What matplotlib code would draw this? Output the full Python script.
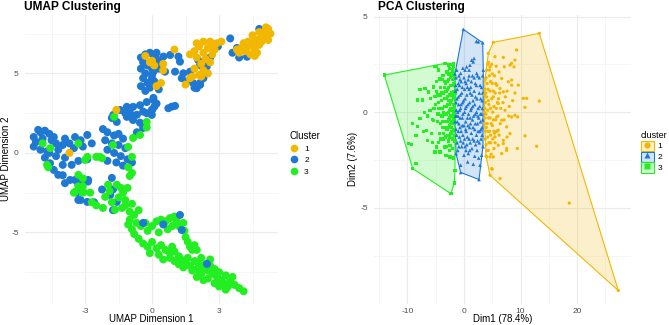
import numpy as np
import matplotlib.pyplot as plt
import matplotlib.colors as mcolors
from matplotlib.lines import Line2D
from matplotlib.patches import Patch
from matplotlib.ticker import MultipleLocator, FixedLocator

plt.rcParams["font.family"] = ["Liberation Sans", "DejaVu Sans"]
plt.rcParams["axes.unicode_minus"] = False

CLUSTERS = ["1", "2", "3"]
COLORS = ["#F2B701", "#1F78D1", "#22EE22"]
PCA_MARKERS = ["o", "^", "s"]

# UMAP embedding
umap_1 = [
    (5.2, 7.8), (5.0, 7.6), (5.3, 7.5), (4.9, 7.3), (5.1, 7.2), (4.7, 7.1), (4.5, 6.9),
    (4.8, 6.8), (4.3, 6.7), (4.6, 6.5), (4.2, 6.4), (4.0, 6.6), (4.4, 6.2), (4.9, 7.0),
    (5.2, 7.1), (4.1, 6.9), (3.9, 6.3), (4.6, 6.1), (3.8, 6.5), (4.5, 7.4), (4.8, 7.6),
    (5.1, 7.9), (4.3, 7.0), (4.7, 6.3),
    (2.3, 7.0), (2.6, 7.0), (2.9, 6.9), (2.1, 6.7), (2.5, 6.6), (2.8, 6.5), (1.9, 6.4),
    (2.3, 6.3), (2.7, 6.2), (2.0, 6.0), (2.4, 5.9), (2.2, 5.6), (2.6, 5.7), (1.9, 5.3),
    (2.3, 5.2), (2.1, 4.9), (2.5, 5.0), (1.8, 4.8), (2.7, 6.8), (1.7, 6.2), (3.1, 7.0),
    (2.0, 6.9),
    (0.0, 5.8), (0.1, 5.5), (1.0, 6.5), (0.5, 5.2), (1.5, 4.3), (1.7, 4.7), (0.4, 4.4),
    (2.2, 4.8), (-0.1, 5.7), (0.2, 4.2), (0.5, 5.6), (-0.3, 6.1),
    (-1.6, 2.7), (-3.7, 0.0),
]
umap_2 = [
    (4.8, 7.8), (4.4, 6.9), (3.8, 6.6), (3.6, 6.3), (3.9, 6.0), (4.25, 6.05), (3.5, 7.2),
    (2.6, 6.0), (2.06, 5.85), (1.9, 4.1), (2.15, 4.4), (2.95, 6.7),
    (0.06, 6.16), (0.51, 6.06), (0.81, 6.16), (1.18, 6.06), (1.25, 5.74), (0.36, 5.53),
    (0.06, 5.11), (-0.01, 4.7), (0.21, 4.28), (0.58, 5.11), (1.03, 5.11), (1.4, 5.01),
    (1.7, 5.11), (1.33, 4.7), (1.55, 4.48), (1.85, 4.38), (2.0, 4.07), (2.15, 4.28),
    (2.3, 4.7), (2.37, 5.11), (2.15, 5.53), (2.45, 5.43), (2.52, 5.74),
    (-0.5, 6.0), (-0.3, 6.2), (-0.1, 6.3), (0.2, 6.3), (-0.4, 5.7), (-0.2, 5.5), (0.1, 5.7),
    (-0.5, 5.3), (-0.3, 5.0), (0.0, 5.3), (-0.4, 4.7), (-0.2, 4.4), (0.0, 4.9), (-0.5, 4.2),
    (-0.3, 3.9), (-0.1, 4.1), (0.1, 4.5), (0.3, 4.0), (0.2, 5.9), (0.4, 5.7), (0.3, 5.3),
    (0.06, 3.33), (-0.01, 2.7), (0.73, 2.81), (0.88, 2.91), (1.03, 2.96), (-0.01, 2.39),
    (0.06, 3.46), (-0.24, 3.2), (-0.54, 3.0), (-0.85, 2.9), (-1.13, 2.9), (-1.43, 2.7),
    (-1.73, 2.4), (-1.8, 2.2), (-1.58, 1.95), (-1.13, 2.27), (-0.68, 2.4), (-0.54, 1.9),
    (-0.24, 2.5), (0.0, 2.7), (-0.4, 1.57), (-0.68, 1.3), (-0.85, 2.07), (-0.98, 2.5),
    (0.2, 3.1), (0.1, 2.9), (-0.4, 2.6), (-1.2, 2.5), (-0.9, 2.2),
    (-5.3, 1.0), (-5.0, 1.3), (-4.8, 1.4), (-4.6, 1.2), (-5.2, 0.7), (-4.9, 0.9), (-4.5, 0.8),
    (-4.3, 0.6), (-4.0, 0.5), (-3.7, 0.6), (-3.45, 1.0), (-3.2, 0.8), (-2.9, 1.13),
    (-3.1, 0.4), (-2.7, 0.6), (-3.5, 0.3), (-4.2, 0.2), (-4.7, 0.1), (-5.3, 0.4), (-5.0, 0.2),
    (-4.4, 1.0), (-3.9, 0.9), (-5.1, 1.45),
    (-4.57, -0.65), (-4.4, -1.07), (-4.0, -0.75), (-3.6, -0.75), (-4.0, -1.4), (-3.67, -1.7),
    (-3.3, -2.0), (-3.2, -1.7), (-2.86, -1.7), (-3.2, -2.96), (-2.9, -3.08), (-2.6, -3.1),
    (-3.37, -2.5), (-4.2, -1.38), (-3.9, -1.9), (-3.45, -1.7), (-2.87, -1.8), (-3.3, -2.96),
    (-4.8, -0.3), (-4.3, -0.2), (-3.9, -0.3), (-3.3, -0.5), (-2.9, -0.4), (-4.6, 0.0),
    (-2.2, 1.5), (-2.0, 1.3), (-1.7, 1.1), (-1.5, 1.2), (-1.3, 0.9), (-2.1, 0.8), (-1.8, 0.6),
    (-1.5, 0.5), (-1.2, 0.3), (-2.0, 0.2), (-1.7, 0.0), (-1.4, -0.2), (-1.1, -0.4),
    (-2.0, -0.5), (-1.6, -0.6), (-1.3, -0.8), (-0.9, -0.6), (-1.8, -1.57), (-2.24, -2.3),
    (-1.87, -2.64), (-1.58, -3.08), (-1.75, -2.3), (-1.75, -3.6),
]
umap_3 = [
    (-1.7, 2.27), (-0.24, 1.95), (-0.54, 1.13), (-0.24, 1.6), (-4.9, 0.6), (-4.56, 0.3),
    (-3.3, 0.6), (-2.9, -0.25), (-2.5, -0.25), (-4.65, -0.9), (-3.5, -2.5), (-2.77, -2.5),
    (-3.07, -2.45), (-3.3, -2.1), (-4.7, -0.75), (-2.33, -0.25), (-3.0, -0.44),
    (-3.45, -2.45), (-3.1, -2.5), (-2.7, -3.1), (-3.1, -2.1), (-3.3, -1.38), (-3.1, -1.6),
    (-1.75, 0.5), (-1.07, 0.38), (-0.85, 0.94), (-0.9, -0.25), (-0.9, -1.26), (-1.07, -0.9),
    (-2.24, -0.33), (-1.97, -2.0), (-1.58, -2.0), (-2.1, -2.76), (-1.8, -3.1), (-2.2, -3.46),
    (-1.3, -2.5), (-1.2, -2.96), (-1.0, -3.7), (-1.34, -3.46), (-1.66, -3.58), (-1.4, -2.2),
    (-1.1, -2.2), (-1.5, -2.8), (-1.2, -3.3), (-1.9, -2.4), (-0.9, -3.2), (-0.6, -3.6),
    (-0.8, -3.9), (-2.5, -3.3), (-1.0, -1.45),
    (-1.07, -4.5), (-1.0, -4.2), (-0.9, -4.8), (-0.7, -4.4), (-0.8, -5.1), (-0.5, -4.6),
    (-0.3, -4.4), (-0.6, -5.4), (-0.2, -4.9), (0.0, -4.6), (0.2, -4.3), (0.4, -4.2),
    (0.6, -4.3), (0.8, -4.1), (1.0, -4.0), (1.1, -4.3), (0.9, -4.6), (1.2, -4.6), (0.7, -4.8),
    (1.4, -4.4), (1.45, -4.9), (1.5, -5.3), (1.6, -5.6), (1.7, -5.9), (1.8, -6.1), (2.0, -6.1),
    (1.9, -5.8), (0.3, -5.0),
    (-0.4, -5.7), (-0.2, -5.9), (0.0, -5.6), (0.2, -6.0), (0.4, -5.8), (0.6, -6.1),
    (0.8, -6.3), (1.0, -6.2), (-0.1, -6.3), (0.3, -6.4), (1.2, -6.5), (0.9, -5.9),
    (1.0, -6.8), (1.3, -6.7), (1.5, -6.9), (1.7, -7.1), (1.6, -6.6), (1.9, -6.8), (2.1, -7.0),
    (2.0, -7.3), (2.3, -7.2), (2.5, -7.4), (2.2, -7.6), (2.4, -7.0), (2.6, -7.1), (2.8, -7.3),
    (2.7, -7.6), (2.9, -7.8), (2.5, -7.9), (3.0, -7.5), (3.1, -8.0), (3.3, -7.7), (3.2, -8.2),
    (3.5, -8.0), (3.4, -8.4), (3.7, -8.3), (3.9, -8.5), (4.1, -8.7), (2.3, -8.0), (2.0, -7.8),
    (1.8, -7.4), (2.8, -8.2), (3.6, -7.8), (3.0, -8.4), (2.6, -6.7), (2.2, -6.6), (1.4, -7.2),
    (1.2, -7.0), (0.8, -6.6), (0.5, -6.7), (3.3, -8.6),
]
# cluster 2 points lying on top of the lower green band
umap_2_lower = [(2.46, -6.98), (-0.4, -4.4), (0.5, -4.5), (1.25, -3.9), (1.33, -4.85)]

# PCA scores
pca_1 = [
    (5.18, 3.65), (13.3, 4.12), (27.26, -9.32), (4.6, -3.3), (4.0, -2.34), (3.6, 0.0),
    (3.7, 1.68), (4.3, 3.07),
    (4.6, 2.37), (5.48, 2.9), (6.95, 2.86), (9.0, 2.72), (9.3, 3.25), (8.13, 2.46),
    (8.83, 2.37), (6.66, 1.76), (7.83, 1.59), (8.42, 1.41), (6.36, 1.24), (6.95, 1.06),
    (9.6, 1.41), (10.48, 0.72), (13.3, 0.58), (10.78, 0.25), (11.07, 0.72), (5.18, 0.8),
    (6.06, 0.45), (7.24, 0.1), (5.77, -0.25), (6.66, -0.42), (8.42, -0.25), (9.0, -0.16),
    (7.54, -0.77), (6.06, -0.94), (8.13, -1.12), (10.78, -1.24), (9.42, -1.9), (12.84, -1.78),
    (6.95, -1.47), (6.06, -1.73), (7.54, -1.9), (5.48, -1.29), (4.6, -2.34), (8.42, 2.55),
    (7.12, 2.37), (8.42, 1.68), (9.48, -0.25), (6.95, -1.64), (6.66, -2.16), (5.18, -2.34),
    (4.89, -2.95), (6.36, -3.47), (7.54, -2.0), (18.6, -4.75), (5.0, -2.98),
    (3.7, 1.2), (3.8, 0.5), (3.7, -0.3), (3.8, -1.0), (3.9, -1.7), (4.0, 2.2), (4.1, 1.5),
    (4.0, 0.8), (4.2, 0.1), (4.1, -0.6), (4.2, -1.3), (4.3, -2.0), (4.5, 1.9), (4.6, 1.1),
    (4.4, 0.4), (4.6, -0.3), (4.5, -1.0), (4.7, -1.6), (4.9, 2.5), (5.0, 1.5), (4.9, 0.7),
    (5.1, 0.0), (5.0, -0.7), (5.1, -1.4), (5.4, 1.9), (5.5, 1.0), (5.3, 0.3), (5.6, -0.4),
    (5.4, -1.1), (5.8, 1.4), (5.9, 0.5), (6.0, -0.2), (5.8, -1.0), (6.3, 1.0), (6.5, 0.2),
    (6.4, -0.6), (6.9, 0.5), (7.1, -0.4), (4.3, 2.6), (3.9, -2.3), (4.8, -2.2), (5.3, -1.9),
    (7.6, 1.1), (7.9, -0.2), (8.6, 0.6), (5.7, 2.4), (6.2, 2.1),
    (3.65, 0.9), (3.7, 0.2), (3.65, -0.6), (3.75, -1.4), (3.9, 1.8), (3.85, 1.0),
    (3.9, -0.1), (3.95, -0.8), (4.0, -2.0), (4.2, 2.5), (4.25, 1.2), (4.3, 0.6), (4.35, -0.3),
    (4.3, -1.0), (4.4, -1.6), (4.5, 2.2), (4.7, 1.6), (4.7, 0.2), (4.8, -0.6), (4.7, -1.2),
    (5.0, 2.0), (5.2, 1.1), (5.2, -0.4), (5.3, -1.0), (5.6, 1.5), (5.7, 0.2), (5.5, -1.6),
    (6.2, -1.2), (6.1, 0.7), (7.3, 0.8), (8.0, 0.3), (7.6, -1.3), (9.0, 1.0),
]
pca_2 = [
    (-0.12, 4.33), (2.2, 3.7), (3.3, 3.63), (3.41, 2.2), (3.35, -1.8), (2.65, -3.52),
    (-0.59, -3.15), (-1.1, -2.0), (-1.6, -0.5), (-1.6, 2.0),
    (1.64, 2.63), (1.06, 2.46), (0.18, 2.2), (2.24, 2.03), (-0.59, 2.03), (-1.3, 2.2),
    (0.47, 2.37), (1.36, 2.72), (1.77, 2.81), (2.53, 3.68), (0.76, -2.16), (3.12, -2.25),
    (0.65, -2.6), (1.64, -2.72), (-0.59, -2.77), (2.83, -2.77), (-1.41, -2.16), (0.0, -2.25),
    (-1.4, 1.8), (-1.2, 1.2), (-1.4, 0.5), (-1.3, -0.2), (-1.4, -0.9), (-1.2, -1.6),
    (-0.9, 1.9), (-0.8, 1.4), (-1.0, 0.8), (-0.8, 0.1), (-0.9, -0.6), (-0.8, -1.3),
    (-0.5, 1.6), (-0.4, 1.0), (-0.5, 0.4), (-0.3, -0.3), (-0.5, -1.0), (-0.4, -1.8),
    (0.0, 1.8), (0.1, 1.2), (-0.1, 0.6), (0.1, 0.0), (0.0, -0.7), (0.1, -1.4), (0.4, 1.5),
    (0.5, 0.9), (0.4, 0.3), (0.6, -0.3), (0.4, -1.0), (0.5, -1.7), (0.9, 1.9), (0.9, 1.2),
    (1.0, 0.5), (0.8, -0.1), (1.0, -0.8), (0.9, -1.4), (1.3, 1.6), (1.4, 0.9), (1.3, 0.2),
    (1.5, -0.4), (1.3, -1.1), (1.4, -1.9), (1.8, 1.8), (1.8, 1.1), (1.9, 0.4), (1.7, -0.2),
    (1.9, -0.9), (1.8, -1.5), (2.2, 1.4), (2.3, 0.7), (2.2, 0.0), (2.4, -0.6), (2.2, -1.2),
    (2.3, -2.0), (2.7, 1.8), (2.7, 1.0), (2.8, 0.3), (2.6, -0.3), (2.8, -1.0), (2.7, -1.6),
    (3.1, 1.3), (3.2, 0.6), (3.1, -0.1), (3.2, -0.8), (3.0, -1.4), (3.3, 1.9), (-1.1, 0.0),
    (0.2, 0.7), (1.1, -0.3), (2.0, -0.1), (0.7, 0.4), (-0.2, -1.2), (1.6, 0.6), (2.5, 0.2),
    (-0.7, -0.3), (0.3, -0.5), (1.2, 1.3), (2.9, -0.5),
    (-1.45, 1.4), (-1.25, 0.7), (-1.35, 0.1), (-1.2, -0.5), (-1.3, -1.2), (-1.0, 1.5),
    (-0.95, 0.4), (-1.05, -0.2), (-1.0, -1.0), (-0.7, 1.7), (-0.65, 0.9), (-0.6, 0.2),
    (-0.7, -0.8), (-0.6, -1.5), (-0.3, 1.3), (-0.25, 0.5), (-0.2, -0.1), (-0.3, -0.7),
    (-0.15, -1.6), (0.2, 1.6), (0.25, 0.2), (0.3, -0.9), (0.2, -1.8), (0.6, 1.3), (0.7, -0.7),
    (0.6, -1.3), (0.75, 1.7), (1.1, 1.0), (1.2, 0.1), (1.15, -0.6), (1.1, -1.6), (1.5, 1.9),
    (1.55, 0.3), (1.6, -0.8), (1.55, -1.4), (2.0, 1.5), (2.05, 0.8), (2.0, -0.6), (2.05, -1.7),
    (2.4, 1.9), (2.45, -0.2), (2.5, -1.0), (2.4, -1.5), (2.85, 1.4), (2.95, 0.7), (2.9, -0.1),
    (3.0, -0.9), (3.25, 0.2), (3.2, -1.2), (3.3, 1.0), (0.9, 2.2), (-0.2, 2.3), (1.9, -2.3),
    (2.6, -2.4), (-0.9, -1.8), (0.35, -2.0), (-1.5, -0.2), (-1.5, 1.1), (3.3, -0.4),
    (1.0, -2.0),
]
pca_3 = [
    (-14.08, 1.94), (-1.8, 2.55), (-1.59, -3.04), (-1.71, -3.7), (-2.3, -4.26),
    (-9.06, -2.95), (-8.48, -2.67),
    (-7.77, 1.19), (-6.89, 1.24), (-6.3, 1.06), (-8.18, 0.63), (-7.3, 0.63), (-9.06, -0.59),
    (-8.25, -0.73), (-7.77, -0.33), (-8.48, -1.2), (-9.24, -1.68), (-9.8, -1.64),
    (-6.6, -0.94), (-6.48, -1.47), (-5.12, 2.37), (-4.53, 2.2), (-4.24, 1.76), (-5.42, 1.32),
    (-5.12, 0.8), (-6.0, 0.1), (-5.42, -0.42), (-5.7, -1.12), (-4.82, -1.82), (-4.24, -2.08),
    (-3.36, -1.82), (-2.47, -1.73), (-3.06, -2.25), (-2.47, -2.34), (-5.12, -2.08),
    (-3.18, -2.25), (-4.82, 2.37), (-3.36, 2.55), (-2.77, 2.46), (-2.17, 2.03),
    (-4.9, 1.6), (-4.6, 0.9), (-4.4, 0.2), (-4.7, -0.5), (-4.3, -1.1), (-4.1, 1.3),
    (-4.0, 0.6), (-3.9, -0.2), (-3.8, -0.8), (-3.7, 1.9), (-3.6, 1.0), (-3.5, 0.3),
    (-3.4, -0.5), (-3.3, -1.3), (-3.3, 1.5), (-3.2, 0.7), (-3.1, -0.1), (-3.0, -0.9),
    (-3.0, 2.1), (-2.9, 1.2), (-2.9, 0.4), (-2.8, -0.4), (-2.8, -1.5), (-2.7, 1.7),
    (-2.6, 0.9), (-2.6, 0.1), (-2.5, -0.7), (-2.5, 2.3), (-2.4, 1.4), (-2.4, 0.5),
    (-2.3, -0.2), (-2.3, -1.1), (-2.2, 1.9), (-2.2, 1.0), (-2.1, 0.2), (-2.1, -0.5),
    (-2.0, -1.4), (-2.0, 2.2), (-1.9, 1.5), (-1.9, 0.7), (-1.9, -0.1), (-1.8, -0.9),
    (-1.8, 1.1), (-1.7, 0.3), (-1.7, -0.4), (-1.7, 1.8), (-2.6, -1.2), (-3.6, -1.1),
    (-4.2, 0.9), (-3.4, 1.3), (-2.7, 0.6), (-2.2, -0.8), (-1.8, 2.4), (-2.3, 2.5),
    (-3.9, 1.7), (-5.3, 0.2), (-5.6, -0.4), (-4.5, -1.6), (-3.1, -1.8), (-2.0, -1.9),
    (-1.8, -2.4), (-2.5, -2.0), (-1.6, 1.0), (-1.6, -1.5),
    (-4.8, 1.1), (-4.5, 0.5), (-4.6, -0.1), (-4.2, -0.6), (-4.3, 1.7), (-4.0, 1.0),
    (-3.9, 0.2), (-3.8, -0.5), (-3.7, -1.4), (-3.5, 1.6), (-3.5, 0.7), (-3.4, -0.1),
    (-3.3, -0.8), (-3.2, 1.1), (-3.1, 0.3), (-3.0, -0.5), (-3.0, 1.6), (-2.9, 0.8),
    (-2.8, 0.0), (-2.8, -0.8), (-2.7, 2.0), (-2.7, 1.3), (-2.6, 0.4), (-2.5, -0.3),
    (-2.5, -1.3), (-2.4, 1.8), (-2.4, 0.9), (-2.3, 0.2), (-2.3, -0.6), (-2.2, 1.4),
    (-2.2, 0.6), (-2.1, -0.2), (-2.1, -1.0), (-2.0, 1.7), (-2.0, 0.9), (-1.95, 0.1),
    (-1.9, -0.6), (-1.85, 2.0), (-1.8, 1.4), (-1.8, 0.4), (-1.75, -0.3), (-1.7, -1.2),
    (-1.7, 0.8), (-1.65, 1.5), (-2.9, -1.2), (-3.6, 0.0), (-4.1, -1.4), (-5.0, 0.4),
    (-5.9, 0.7), (-6.4, -0.2), (-7.0, 0.0), (-5.5, -1.6), (-7.2, -1.0),
]


def convex_hull(points):
    pts = sorted(set(points))

    def cross(o, a, b):
        return (a[0] - o[0]) * (b[1] - o[1]) - (a[1] - o[1]) * (b[0] - o[0])

    lower, upper = [], []
    for p in pts:
        while len(lower) >= 2 and cross(lower[-2], lower[-1], p) <= 0:
            lower.pop()
        lower.append(p)
    for p in reversed(pts):
        while len(upper) >= 2 and cross(upper[-2], upper[-1], p) <= 0:
            upper.pop()
        upper.append(p)
    return np.array(lower[:-1] + upper[:-1])


def style_axes(ax, major_x, major_y, xticks, yticks):
    ax.set_facecolor("white")
    for side in ax.spines.values():
        side.set_visible(False)
    ax.xaxis.set_major_locator(FixedLocator(xticks))
    ax.yaxis.set_major_locator(FixedLocator(yticks))
    ax.xaxis.set_minor_locator(MultipleLocator(major_x / 2))
    ax.yaxis.set_minor_locator(MultipleLocator(major_y / 2))
    ax.grid(which="major", color="#EBEBEB", linewidth=0.8)
    ax.grid(which="minor", color="#F3F3F3", linewidth=0.5)
    ax.set_axisbelow(True)
    ax.tick_params(which="both", length=0, labelsize=6, labelcolor="#4D4D4D")
    ax.tick_params(axis="x", pad=3)
    ax.tick_params(axis="y", pad=4.5)


W, H = 669, 325
fig = plt.figure(figsize=(W / 100, H / 100), dpi=100)
bottom = 1 - 303.5 / H
height = (303.5 - 14.6) / H

# ---- UMAP panel ----
ax1 = fig.add_axes([25 / W, bottom, 253 / W, height])
style_axes(ax1, 3, 5, [-3, 0, 3], [-5, 0, 5])
for pts, col in [(umap_2, COLORS[1]), (umap_3, COLORS[2]), (umap_1, COLORS[0]),
                 (umap_2_lower, COLORS[1])]:
    arr = np.array(pts)
    ax1.scatter(arr[:, 0], arr[:, 1], s=33, color=col, edgecolors="none")
ax1.set_xlim(-5.69, 5.64)
ax1.set_ylim(-9.47, 8.7)

fig.text(24 / W, 1 - 10 / H, "UMAP Clustering", fontsize=8.6, fontweight="bold",
         ha="left", va="baseline")
fig.text(151 / W, 1 - 322.5 / H, "UMAP Dimension 1", fontsize=7, ha="center",
         va="baseline")
fig.text(6 / W, 1 - 159 / H, "UMAP Dimension 2", fontsize=7, rotation=90,
         ha="center", va="center")

umap_handles = [Line2D([], [], marker="o", linestyle="none", markersize=5.5,
                       markerfacecolor=c, markeredgecolor="none") for c in COLORS]
fig.legend(umap_handles, CLUSTERS, title="Cluster", loc="upper left",
           bbox_to_anchor=(290 / W, 1 - 131 / H), frameon=False, fontsize=6,
           title_fontsize=7, handlelength=1.0, handletextpad=0.7,
           labelspacing=0.45, borderaxespad=0, borderpad=0, alignment="left")

# ---- PCA panel ----
ax2 = fig.add_axes([374 / W, bottom, (630.5 - 374) / W, height])
style_axes(ax2, 10, 5, [-10, 0, 10, 20], [-5, 0, 5])
for pts, col in zip([pca_1, pca_2, pca_3], COLORS):
    hull = convex_hull(pts)
    ax2.fill(hull[:, 0], hull[:, 1], facecolor=mcolors.to_rgba(col, 0.2),
             edgecolor=col, linewidth=0.8, zorder=1)
for pts, col, mk in zip([pca_3, pca_2, pca_1], COLORS[::-1], PCA_MARKERS[::-1]):
    arr = np.array(pts)
    size = 7 if mk == "^" else 5.5
    ax2.scatter(arr[:, 0], arr[:, 1], s=size, color=col, marker=mk,
                edgecolors="none", zorder=2)
ax2.set_xlim(-15.9, 29.42)
ax2.set_ylim(-10.0, 5.1)

fig.text(378 / W, 1 - 10 / H, "PCA Clustering", fontsize=8.6, fontweight="bold",
         ha="left", va="baseline")
fig.text(502.5 / W, 1 - 321.5 / H, "Dim1 (78.4%)", fontsize=7, ha="center",
         va="baseline")
fig.text(353 / W, 1 - 159 / H, "Dim2 (7.6%)", fontsize=7, rotation=90,
         ha="center", va="center")

pca_handles = [
    (Patch(facecolor=mcolors.to_rgba(c, 0.2), edgecolor=c, linewidth=0.8),
     Line2D([], [], marker=m, linestyle="none", markersize=4.5,
            markerfacecolor=c, markeredgecolor="none"))
    for c, m in zip(COLORS, PCA_MARKERS)
]
fig.legend(pca_handles, CLUSTERS, title="cluster", loc="upper left",
           bbox_to_anchor=(641 / W, 1 - 131 / H), frameon=False, fontsize=6,
           title_fontsize=6.5, handlelength=1.5, handleheight=1.5,
           handletextpad=0.5, labelspacing=0.08, borderaxespad=0,
           borderpad=0, alignment="left")

fig.savefig("out.png", dpi=100, facecolor="white")
